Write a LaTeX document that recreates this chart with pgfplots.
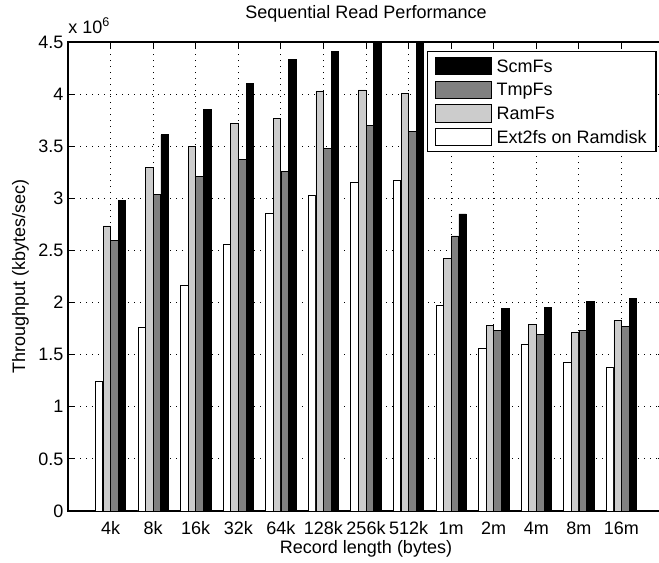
\documentclass[border=0pt]{standalone}
\usepackage{pgfplots}
\pgfplotsset{compat=1.18}
\usepackage{fontspec}
\setmainfont{Liberation Sans}
\definecolor{lgray}{RGB}{204,204,204}
\definecolor{dgray}{RGB}{128,128,128}
\newcommand{\ff}{\fontsize{13.5}{16}\selectfont}
\begin{document}
\begin{tikzpicture}
\begin{axis}[
  scale only axis, width=447pt, height=351.75pt,
  xmin=0, xmax=14, ymin=0, ymax=4.5,
  ybar=0.15pt, bar width=5.6pt,
  xtick={1,2,3,4,5,6,7,8,9,10,11,12,13},
  xticklabels={4k,8k,16k,32k,64k,128k,256k,512k,1m,2m,4m,8m,16m},
  ytick={0,0.5,1,1.5,2,2.5,3,3.5,4,4.5},
  yticklabel style={/pgf/number format/fixed},
  /pgf/number format/assume math mode=true,
  tick align=inside, major tick length=4.5pt,
  tick style={black, line width=0.6pt},
  axis line style={line width=0.9pt},
  grid=major,
  major grid style={black, line width=0.6pt, dash pattern=on 0.75pt off 3.75pt},
  tick label style={font=\ff},
  xticklabel style={anchor=base, yshift=-17.25pt},
  label style={font=\ff},
  title style={font=\ff},
  title={Sequential Read Performance},
  title style={at={(axis description cs:0.5,1.032)}, anchor=base},
  xlabel={Record length (bytes)},
  xlabel style={at={(axis description cs:0.5,-0.0896)}, anchor=base},
  ylabel={Throughput (kbytes/sec)},
  ylabel style={at={(axis description cs:-0.0721,0.5)}, anchor=base},
  every axis plot post/.append style={legend image code/.code={\draw[##1, draw=black, line width=0.6pt] (0pt,-6.5pt) rectangle (42pt,6.5pt);}},
  reverse legend,
  legend cell align=left,
  legend style={at={(0.9877,0.9808)}, anchor=north east, draw=black, line width=0.9pt,
    font=\ff, inner xsep=5pt, inner ysep=4pt, row sep=4.2pt, column sep=2pt,
    nodes={text height=11pt, text depth=2pt, inner ysep=0pt, inner xsep=2pt}},
]
\addplot[fill=white, draw=black, line width=0.5pt] coordinates {
(1,1.24) (2,1.766) (3,2.165) (4,2.557) (5,2.86) (6,3.03) (7,3.15) (8,3.17) (9,1.97) (10,1.565) (11,1.595) (12,1.43) (13,1.38)};
\addlegendentry{Ext2fs on Ramdisk}
\addplot[fill=lgray, draw=black, line width=0.5pt] coordinates {
(1,2.735) (2,3.30) (3,3.50) (4,3.72) (5,3.77) (6,4.03) (7,4.04) (8,4.01) (9,2.42) (10,1.78) (11,1.79) (12,1.715) (13,1.83)};
\addlegendentry{RamFs}
\addplot[fill=dgray, draw=black, line width=0.5pt] coordinates {
(1,2.598) (2,3.04) (3,3.21) (4,3.37) (5,3.26) (6,3.48) (7,3.70) (8,3.64) (9,2.64) (10,1.73) (11,1.695) (12,1.735) (13,1.77)};
\addlegendentry{TmpFs}
\addplot[fill=black, draw=black, line width=0.5pt] coordinates {
(1,2.98) (2,3.61) (3,3.855) (4,4.10) (5,4.33) (6,4.41) (7,4.6) (8,4.6) (9,2.85) (10,1.94) (11,1.95) (12,2.01) (13,2.04)};
\addlegendentry{ScmFs}
\end{axis}
\node[anchor=base west, inner sep=0pt, font=\ff] at (0pt,358.5pt) {x 10\textsuperscript{6}};
\pgfresetboundingbox
\useasboundingbox (-51pt,-38.25pt) rectangle (443.25pt,383.25pt);
\end{tikzpicture}
\end{document}
